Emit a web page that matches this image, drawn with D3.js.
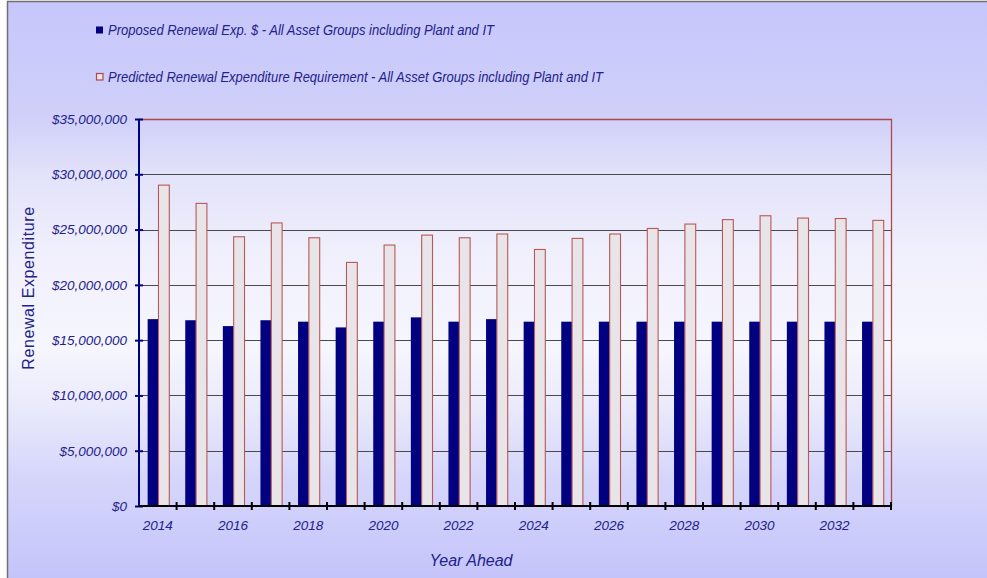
<!DOCTYPE html>
<html>
<head>
<meta charset="utf-8">
<script src="https://cdn.jsdelivr.net/npm/d3@7"></script>
<style>
  html, body { margin: 0; padding: 0; background: #ffffff; }
  svg { display: block; }
</style>
</head>
<body>
<svg id="chart" width="987" height="578"></svg>
<script>
// Renewal expenditure by year: proposed vs predicted requirement
const years = ["2014","2015","2016","2017","2018","2019","2020","2021","2022","2023",
               "2024","2025","2026","2027","2028","2029","2030","2031","2032","2033"];
const proposed = [16.9, 16.8, 16.27, 16.8, 16.67, 16.15, 16.67, 17.06, 16.67, 16.9,
                  16.67, 16.67, 16.67, 16.67, 16.67, 16.67, 16.67, 16.67, 16.67, 16.67].map(v => v * 1e6);
const predicted = [29.02, 27.37, 24.35, 25.6, 24.26, 22.03, 23.6, 24.5, 24.26, 24.6,
                   23.2, 24.2, 24.6, 25.1, 25.5, 25.9, 26.25, 26.04, 26.0, 25.83].map(v => v * 1e6);
const yTicks = [0, 5e6, 10e6, 15e6, 20e6, 25e6, 30e6, 35e6];
const seriesNames = [
  "Proposed Renewal Exp. $ -  All Asset Groups including Plant and IT",
  "Predicted Renewal Expenditure Requirement -  All Asset Groups including Plant and IT"
];

const svg = d3.select("#chart");
const W = 987, H = 578;
const plot = { left: 139, right: 891, top: 119, bottom: 506 };
const textColor = "#22228a";

// background gradient over the whole chart area
const defs = svg.append("defs");
const grad = defs.append("linearGradient").attr("id", "bg").attr("x1", 0).attr("y1", 0).attr("x2", 0).attr("y2", 1);
[[0, "#c6c6fb"], [0.2, "#d0d0fa"], [0.3, "#e2e2fa"], [0.43, "#f0effc"], [0.6, "#f6f6fe"],
 [0.7, "#eaeafb"], [0.82, "#d6d6fb"], [1, "#c4c4fb"]].forEach(([o, c]) =>
  grad.append("stop").attr("offset", o).attr("stop-color", c));

svg.append("rect").attr("x", 7.5).attr("y", 1.5).attr("width", W).attr("height", H)
  .attr("fill", "url(#bg)").attr("stroke", "#707070").attr("stroke-width", 1.5);

// scales
const x = d3.scaleBand().domain(years).range([plot.left, plot.right]).paddingInner(0).paddingOuter(0);
const y = d3.scaleLinear().domain([0, 35e6]).range([plot.bottom, plot.top]);
const barW = x.bandwidth() * 0.288;
const barOffset = x.bandwidth() * 0.23;

// horizontal gridlines
svg.append("g").selectAll("line").data(yTicks.filter(t => t > 0 && t < 35e6)).join("line")
  .attr("x1", plot.left).attr("x2", plot.right)
  .attr("y1", d => Math.round(y(d)) + 0.5).attr("y2", d => Math.round(y(d)) + 0.5)
  .attr("stroke", "#4a4a4a").attr("stroke-width", 1.2);

// plot frame (top and right)
svg.append("path")
  .attr("d", `M${plot.left},${y(35e6) + 0.5}H${plot.right + 0.5}V${plot.bottom}`)
  .attr("fill", "none").attr("stroke", "#b04848").attr("stroke-width", 1.3);

// bars
const g = svg.append("g");
g.selectAll("rect.proposed").data(years).join("rect").attr("class", "proposed")
  .attr("x", (d) => x(d) + barOffset)
  .attr("y", (d, i) => y(proposed[i]))
  .attr("width", barW)
  .attr("height", (d, i) => y(0) - y(proposed[i]))
  .attr("fill", "#000080");
g.selectAll("rect.predicted").data(years).join("rect").attr("class", "predicted")
  .attr("x", (d) => x(d) + barOffset + barW)
  .attr("y", (d, i) => y(predicted[i]))
  .attr("width", barW)
  .attr("height", (d, i) => y(0) - y(predicted[i]))
  .attr("fill", "#e8e4e8").attr("stroke", "#b85858").attr("stroke-width", 1.1);

// y axis
const yAxis = svg.append("g").attr("transform", `translate(${plot.left},0)`)
  .call(d3.axisLeft(y).tickValues(yTicks).tickSize(0).tickPadding(12)
    .tickFormat(d => "$" + d3.format(",")(d)));
yAxis.select(".domain").remove();
yAxis.append("line").attr("x1", 0).attr("x2", 0).attr("y1", plot.top).attr("y2", plot.bottom)
  .attr("stroke", "#000080").attr("stroke-width", 2);
yAxis.selectAll(".tick").append("line").attr("x1", -4).attr("x2", 4)
  .attr("stroke", "#000080").attr("stroke-width", 2);
yAxis.selectAll("text").attr("fill", textColor)
  .style("font-family", "Liberation Sans, Arial, sans-serif").style("font-size", "13.5px")
  .style("font-style", "italic");

// x axis: band-edge ticks, labels on every other year
const xAxisG = svg.append("g").attr("transform", `translate(0,${plot.bottom})`);
xAxisG.append("line").attr("x1", plot.left).attr("x2", plot.right + 1)
  .attr("stroke", "#000000").attr("stroke-width", 2);
const edges = years.map(d => x(d)).concat([plot.right]);
xAxisG.selectAll("line.tk").data(edges.slice(1)).join("line").attr("class", "tk")
  .attr("x1", d => d).attr("x2", d => d).attr("y1", -4).attr("y2", 4)
  .attr("stroke", "#000000").attr("stroke-width", 2);
xAxisG.selectAll("text").data(years.filter((d, i) => i % 2 === 0)).join("text")
  .attr("x", d => x(d) + x.bandwidth() / 2).attr("y", 24)
  .attr("text-anchor", "middle").attr("fill", textColor)
  .style("font-family", "Liberation Sans, Arial, sans-serif").style("font-size", "13.5px")
  .style("font-style", "italic").text(d => d);

// axis titles
svg.append("text").attr("transform", "translate(34,288) rotate(-90)")
  .attr("text-anchor", "middle").attr("fill", textColor)
  .style("font-family", "Liberation Sans, Arial, sans-serif").style("font-size", "16px")
  .style("letter-spacing", "0.6px")
  .text("Renewal Expenditure");
svg.append("text").attr("x", 471).attr("y", 566)
  .attr("text-anchor", "middle").attr("fill", textColor)
  .style("font-family", "Liberation Sans, Arial, sans-serif").style("font-size", "16px")
  .style("font-style", "italic").text("Year Ahead");

// legend
const legend = svg.append("g");
const legendY = [30, 77];
legend.append("rect").attr("x", 96).attr("y", legendY[0] - 3.5).attr("width", 7).attr("height", 7)
  .attr("fill", "#000080");
legend.append("rect").attr("x", 96.5).attr("y", legendY[1] - 3.5).attr("width", 6.5).attr("height", 6.5)
  .attr("fill", "#e8e4e8").attr("stroke", "#b04848").attr("stroke-width", 1.2);
const legendWidths = [386, 495];
seriesNames.forEach((name, i) => {
  legend.append("text").attr("x", 108).attr("y", legendY[i] + 5)
    .attr("fill", textColor)
    .attr("textLength", legendWidths[i]).attr("lengthAdjust", "spacingAndGlyphs")
    .style("font-family", "Liberation Sans Narrow, Liberation Sans, Arial, sans-serif")
    .style("font-size", "14px").style("font-style", "italic")
    .text(name);
});
</script>
</body>
</html>
